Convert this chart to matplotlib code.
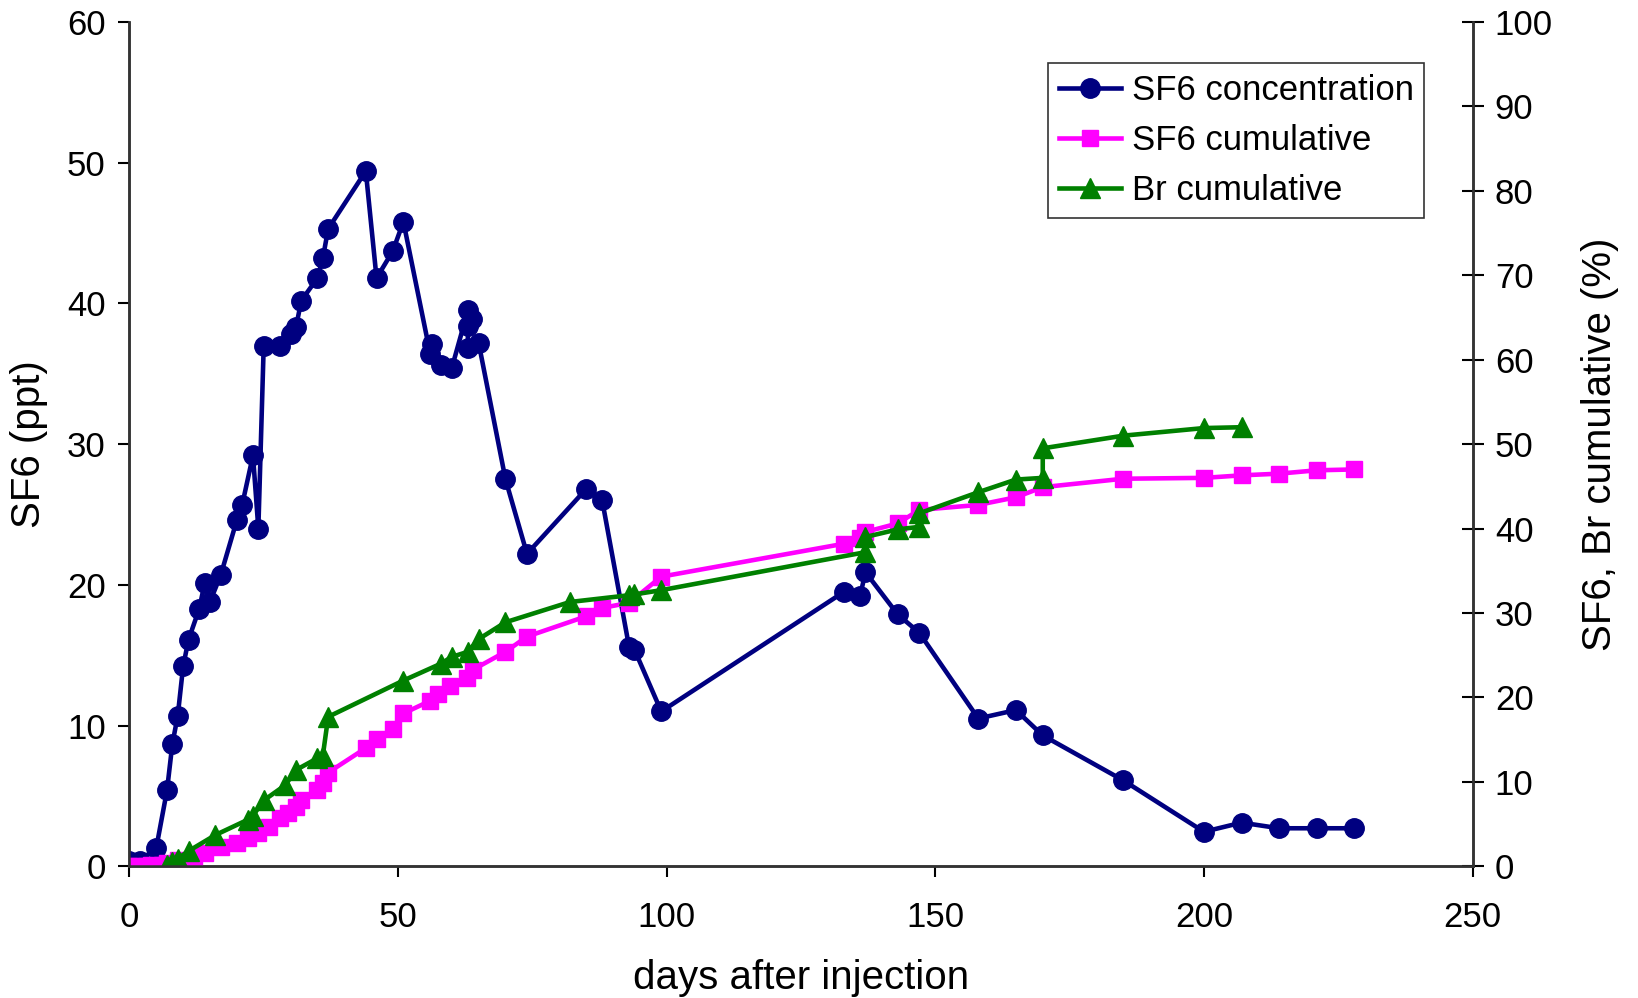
import matplotlib
matplotlib.use("Agg")
import matplotlib.pyplot as plt

plt.rcParams['font.family'] = ['Liberation Sans', 'DejaVu Sans']

# ==========================
# Data
# ==========================

conc_days = [0, 2, 5, 7, 8, 9, 10, 11, 13, 14, 15, 17, 20, 21, 23, 24, 25, 28, 30, 31,
             32, 35, 36, 37, 44, 46, 49, 51, 56, 56.3, 58, 60, 63, 63.8, 63, 63, 65,
             70, 74, 85, 88, 93, 94, 99, 133, 136, 137, 143, 147, 158, 165, 170, 185,
             200, 207, 214, 221, 228]
conc_ppt = [0.4, 0.4, 1.3, 5.4, 8.7, 10.7, 14.2, 16.1, 18.3, 20.1, 18.8, 20.7, 24.6, 25.7,
            29.2, 24.0, 37.0, 37.0, 37.8, 38.3, 40.2, 41.8, 43.2, 45.3, 49.4, 41.8, 43.7,
            45.8, 36.4, 37.1, 35.6, 35.4, 39.5, 38.9, 38.4, 36.8, 37.2, 27.5, 22.2, 26.8,
            26.0, 15.6, 15.4, 11.0, 19.5, 19.2, 20.9, 17.9, 16.6, 10.5, 11.1, 9.3, 6.1,
            2.45, 3.1, 2.7, 2.7, 2.7]

sf6_days = [0, 1, 3, 4, 6, 7, 9, 12, 14, 17, 20, 22, 24, 26, 28, 29.5, 31, 32, 35, 36, 37,
            44, 46, 49, 51, 56, 57.5, 59.7, 62.8, 64, 70, 74, 85, 88, 93, 99, 133, 136,
            137, 143, 147, 158, 165, 170, 185, 200, 207, 214, 221, 228]
sf6_cum = [0, 0, 0, 0.1, 0.2, 0.4, 0.7, 1.1, 1.6, 2.3, 2.8, 3.3, 3.9, 4.7, 5.7, 6.3, 7.0,
           7.8, 9.0, 9.9, 11.1, 14.0, 15.1, 16.2, 18.1, 19.6, 20.4, 21.4, 22.3, 23.3,
           25.4, 27.2, 29.6, 30.6, 31.2, 34.3, 38.2, 38.9, 39.6, 40.6, 42.2, 42.8, 43.7,
           44.9, 45.9, 46.0, 46.3, 46.5, 46.9, 47.0]

br_days = [7, 8, 9, 11, 16, 22, 23, 25, 29, 31, 35, 36, 37, 51, 58, 60, 63, 65, 70, 82,
           93, 94, 99, 137, 137, 143, 147, 147, 158, 165, 170, 170, 185, 200, 207]
br_cum = [0.2, 0.5, 0.9, 1.8, 3.7, 5.5, 6.0, 7.8, 9.6, 11.4, 12.8, 13.1, 17.7, 22.0, 24.0,
          24.8, 25.4, 26.9, 28.9, 31.3, 32.1, 32.2, 32.7, 37.2, 39.0, 39.9, 40.2, 41.8,
          44.3, 45.8, 46.0, 49.5, 51.0, 51.9, 52.0]

left_ticks = [0, 10, 20, 30, 40, 50, 60]
right_ticks = [0, 10, 20, 30, 40, 50, 60, 70, 80, 90, 100]
x_ticks = [0, 50, 100, 150, 200, 250]

# ==========================
# Plot
# ==========================

fig = plt.figure(figsize=(16.38, 9.98), dpi=100)
ax = fig.add_axes([0.079, 0.132, 0.820, 0.846])
ax2 = ax.twinx()

h1, = ax.plot(conc_days, conc_ppt, color='#000080', lw=3.3, marker='o', ms=14,
              label='SF6 concentration', zorder=3)
h2, = ax2.plot(sf6_days, sf6_cum, color='#FF00FF', lw=3.3, marker='s', ms=11,
               label='SF6 cumulative', zorder=2)
h3, = ax2.plot(br_days, br_cum, color='#008000', lw=3.3, marker='^', ms=14,
               label='Br cumulative', zorder=2)

ax.set_xlim(0, 250)
ax.set_ylim(0, 60)
ax2.set_ylim(0, 100)
ax.set_xticks(x_ticks)
ax.set_yticks(left_ticks)
ax2.set_yticks(right_ticks)

for a in (ax, ax2):
    a.spines['top'].set_visible(False)
    for s in a.spines.values():
        s.set_linewidth(1.8)
        s.set_color('#333333')

ax.tick_params(axis='y', direction='out', length=8, width=1.5, labelsize=25, pad=9)
ax.tick_params(axis='x', direction='out', length=8, width=1.5, labelsize=25, pad=17)
ax2.tick_params(axis='y', direction='inout', length=16, width=1.5, labelsize=25, pad=8)

ax.set_xlabel('days after injection', fontsize=29, labelpad=18)
ax.set_ylabel('SF6 (ppt)', fontsize=29, labelpad=14)
ax2.set_ylabel('SF6, Br cumulative (%)', fontsize=29, labelpad=20)

leg = ax2.legend(handles=[h1, h2, h3], loc='upper right', bbox_to_anchor=(0.964, 0.951),
                 fontsize=25, frameon=True, fancybox=False, handlelength=1.8,
                 borderpad=0.3, labelspacing=0.5, handletextpad=0.3, borderaxespad=0)
leg.get_frame().set_edgecolor('black')
leg.get_frame().set_linewidth(1.2)

fig.savefig('out.png', dpi=100)
